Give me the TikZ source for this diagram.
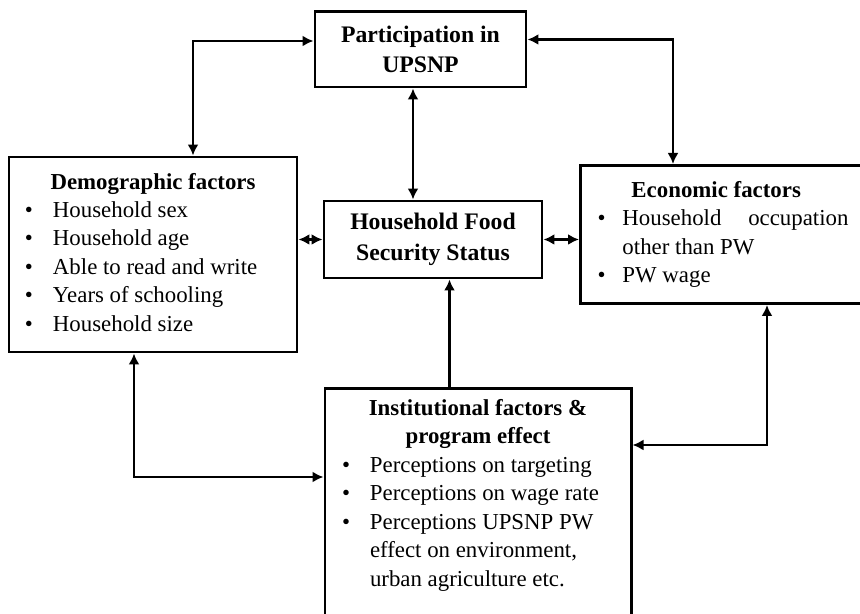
\documentclass[tikz,border=0pt]{standalone}
\usepackage{fontspec}
\setmainfont{Liberation Serif}
\usetikzlibrary{arrows.meta}

\begin{document}
\begin{tikzpicture}[
    headbox/.style={draw=black, line width=1.7pt, align=center, inner sep=0pt,
                    font=\bfseries\fontsize{13.5}{17.5}\selectfont},
    listbox/.style={draw=black, line width=1.7pt, inner sep=0pt,
                    font=\fontsize{13}{16.2}\selectfont},
    arr/.style={->, line width=1.4pt, >={Latex[length=2.2mm,width=2.2mm]}},
    dbl/.style={<->, line width=1.4pt, >={Latex[length=2.2mm,width=2.2mm]}},
]
\useasboundingbox (0,0) rectangle (17.2,-12.28);

% Top and centre
\node[headbox, minimum width=4.22cm, minimum height=1.5cm] (part) at (8.41,-0.99)
    {Participation in\\UPSNP};
\node[headbox, minimum width=4.36cm, minimum height=1.54cm] (hfss) at (8.66,-4.79)
    {Household Food\\Security Status};

% Demographic factors (left)
\node[listbox, minimum width=5.76cm, minimum height=3.9cm] (demo) at (3.06,-5.09)
    {\begin{tabular}{@{}p{0.56cm}@{}p{4.56cm}@{}}
     \multicolumn{2}{@{}c@{}}{\textbf{Demographic factors}}\\
     \textbullet & Household sex\\
     \textbullet & Household age\\
     \textbullet & Able to read and write\\
     \textbullet & Years of schooling\\
     \textbullet & Household size
     \end{tabular}};

% Economic factors (right)
\node[listbox, anchor=north west, minimum height=2.76cm, inner xsep=0.34cm]
    (econ) at (11.58,-3.28)
    {\begin{tabular}{@{}p{0.5cm}@{}p{4.52cm}@{\hspace{1.2cm}}}
     & \hspace{0.18cm}\textbf{Economic factors}\\
     \textbullet & \makebox[4.52cm][s]{Household occupation}\\
     & other than PW\\
     \textbullet & PW wage
     \end{tabular}};

% Institutional factors (bottom)
\node[listbox, anchor=north, minimum width=6.12cm, inner ysep=0.14cm]
    (inst) at (9.56,-7.74)
    {\begin{tabular}{@{}p{0.56cm}@{}p{4.88cm}@{}}
     \multicolumn{2}{@{}c@{}}{\textbf{Institutional factors \&}}\\
     \multicolumn{2}{@{}c@{}}{\textbf{program effect}}\\
     \textbullet & Perceptions on targeting\\
     \textbullet & Perceptions on wage rate\\
     \textbullet & Perceptions UPSNP PW\\
     & effect on environment,\\
     & urban agriculture etc.\\[3cm]
     \end{tabular}};

% Links
\draw[dbl] ([xshift=0.8cm]demo.north) |- ([yshift=0.17cm]part.west);
\draw[dbl] ([yshift=0.2cm]part.east) -| ([xshift=1.88cm]econ.north west);
\draw[dbl] ([xshift=-0.15cm]part.south) -- ([xshift=-0.15cm]part.south |- hfss.north);
\draw[dbl] (hfss.west) -- (hfss.west -| demo.east);
\draw[dbl] (hfss.east) -- (hfss.east -| econ.west);
\draw[arr] ([xshift=-0.57cm]inst.north) -- ([xshift=-0.57cm]inst.north |- hfss.south);
\draw[dbl] ([xshift=-0.38cm]demo.south) |- ([yshift=-1.8cm]inst.north west);
\draw[dbl] ([xshift=3.76cm]econ.south west) |- ([yshift=-1.16cm]inst.north east);

\end{tikzpicture}
\end{document}
